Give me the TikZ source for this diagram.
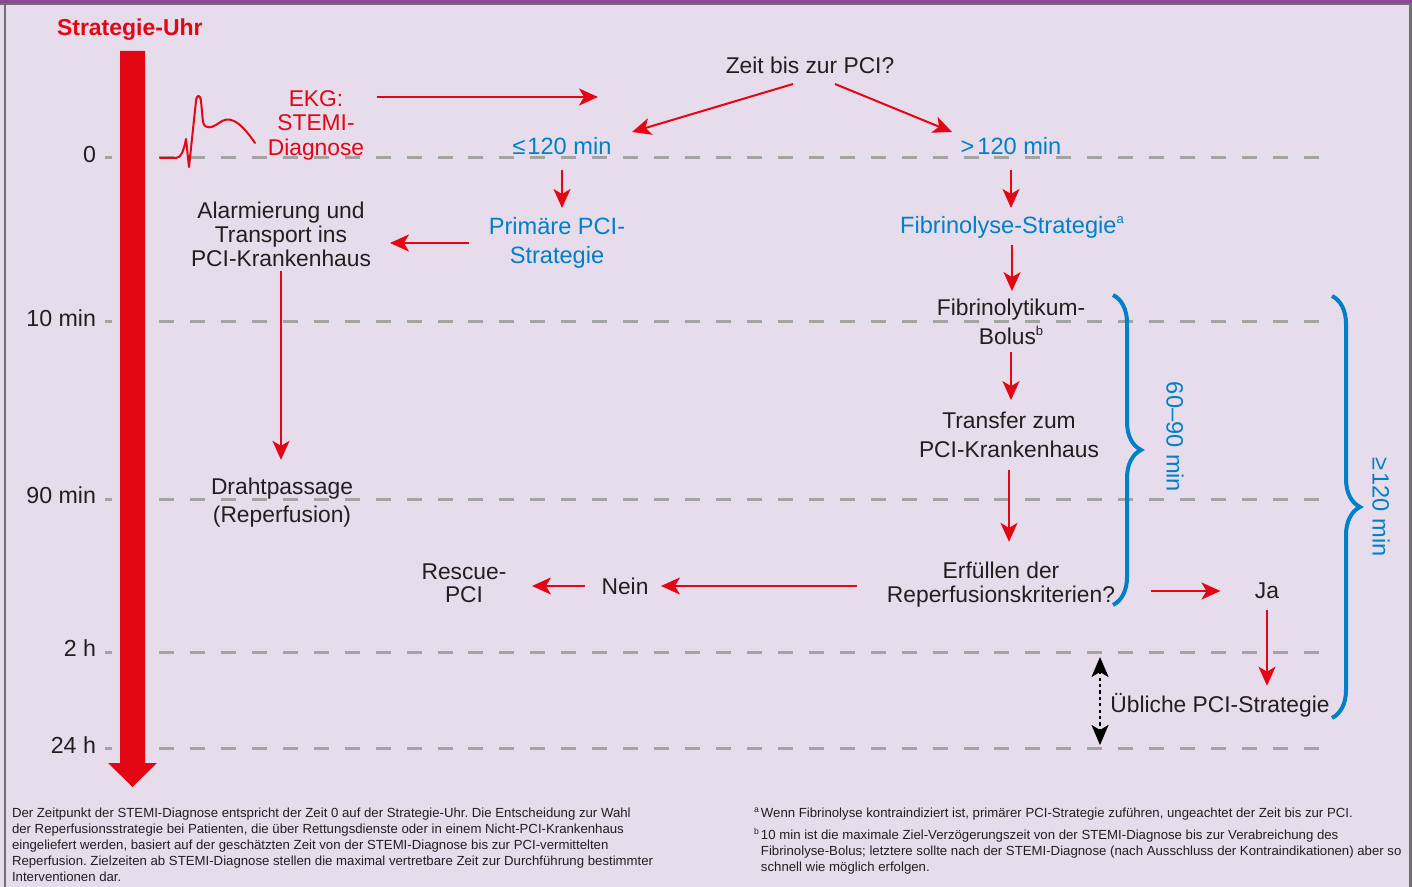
\documentclass[tikz,border=0pt]{standalone}
\usepackage{fontspec}
\setmainfont{Liberation Sans}
\usetikzlibrary{arrows.meta,decorations.pathreplacing}
\definecolor{bgc}{RGB}{230,220,236}
\definecolor{purp}{RGB}{140,72,150}
\definecolor{frm}{RGB}{112,112,112}
\definecolor{rd}{RGB}{227,6,19}
\definecolor{bl}{RGB}{0,128,198}
\definecolor{gr}{RGB}{163,163,163}
\definecolor{tx}{RGB}{35,31,32}
\newcommand{\fnsz}{\fontsize{6.6}{8}\selectfont}
\newcommand{\supmark}[1]{\raisebox{0.42em}{\fontsize{6.5}{7}\selectfont #1}}
\newcommand{\fnmark}[1]{\raisebox{0.4em}{\fontsize{4.3}{5}\selectfont #1}}
\frenchspacing
\begin{document}
\begin{tikzpicture}[x=0.5pt,y=-0.5pt,
  every node/.style={inner sep=0pt, outer sep=0pt, text=tx, align=center, font=\fontsize{11.4}{12}\selectfont},
  bluetxt/.style={text=bl, font=\fontsize{11.8}{14.5}\selectfont},
  redtxt/.style={text=rd, font=\fontsize{11.4}{12.25}\selectfont},
  ticklbl/.style={anchor=east, font=\fontsize{11.6}{12}\selectfont},
  arr/.style={draw=rd, line width=1pt, -{Stealth[length=9.5pt,width=8.5pt,inset=2.5pt]}},
  dotarr/.style={draw=black, line width=1.3pt, dash pattern=on 1.6pt off 1.6pt, {Stealth[length=10pt,width=8.5pt,inset=2.5pt]}-{Stealth[length=10pt,width=8.5pt,inset=2.5pt]}},
  gridline/.style={draw=gr, line width=1.5pt, dash pattern=on 7.5pt off 7.97pt, dash phase=3.9pt},
  bracestyle/.style={draw=bl, line width=2pt, decorate, decoration={brace, amplitude=14pt, aspect=0.5}},
  fnote/.style={anchor=north west, align=left, font=\fnsz},
]
\useasboundingbox (0,0) rectangle (1412,887);
% background and frame
\fill[bgc] (0,0) rectangle (1412,887);
\fill[purp] (0,0) rectangle (1412,3.5);
\draw[frm, line width=0.9pt] (0,4) -- (1412,4);
\draw[frm, line width=1pt] (5,4) -- (5,887);
\draw[frm, line width=1.2pt] (1410.5,4) -- (1410.5,887);

% time grid
\foreach \yy in {158,322,499,652,748}
  \draw[gridline] (105,\yy) -- (1320,\yy);

% strategy clock bar
\fill[rd] (120,51) -- (145,51) -- (145,763) -- (157,763) -- (132.5,787) -- (108,763) -- (120,763) -- cycle;
\node[anchor=west, text=rd, font=\bfseries\fontsize{11.5}{12}\selectfont] (title) at (57,30) {Strategie-Uhr};

% tick labels
\node[ticklbl] (t0) at (96,155) {0};
\node[ticklbl] (t10) at (96,318) {10 min};
\node[ticklbl] (t90) at (96,495) {90 min};
\node[ticklbl] (t2h) at (96,648) {2 h};
\node[ticklbl] (t24) at (96,745) {24 h};

% EKG trace
\draw[rd, line width=1pt, line join=round, line cap=round]
  (160,158) -- (176,158) .. controls (181,158) and (184,150) .. (186,139)
  -- (189,167) -- (196,101) .. controls (197,94) and (200,94) .. (201,101)
  -- (203,122) .. controls (205,130) and (212,128) .. (219,123)
  .. controls (228,116) and (238,118) .. (255,143);

% nodes
\node[redtxt] (ekg) at (316,125) {EKG:\\STEMI-\\Diagnose};
\node (zeit) at (810,65) {Zeit bis zur PCI?};
\node[bluetxt] (le) at (562,146) {≤\kern1pt120 min};
\node[bluetxt] (gt) at (1011,146) {>\kern1.5pt120 min};
\node[bluetxt] (prim) at (557,243) {Primäre PCI-\\Strategie};
\node[bluetxt] (fib) at (1012,227) {Fibrinolyse-Strategie\supmark{a}};
\node (alarm) at (281,234) {Alarmierung und\\Transport ins\\PCI-Krankenhaus};
\node[font=\fontsize{11.4}{14}\selectfont] (draht) at (282,503) {Drahtpassage\\(Reperfusion)};
\node[font=\fontsize{11.4}{14.5}\selectfont] (bolus) at (1011,322) {Fibrinolytikum-\\Bolus\supmark{b}};
\node[font=\fontsize{11.4}{14.5}\selectfont] (transfer) at (1009,435) {Transfer zum\\PCI-Krankenhaus};
\node (erf) at (1001,585) {Erfüllen der\\Reperfusionskriterien?};
\node (nein) at (625,586) {Nein};
\node[font=\fontsize{11.4}{11.5}\selectfont] (rescue) at (464,583) {Rescue-\\PCI};
\node (ja) at (1267,591) {Ja};
\node (ueb) at (1220,705) {Übliche PCI-Strategie};

% free connector ends
\coordinate (fork) at (598,97);
\coordinate (zl) at (793,84);
\coordinate (zr) at (835,84);
\coordinate (leIn) at (632,132);
\coordinate (gtIn) at (952,132);
\coordinate (d1) at (1100,657);
\coordinate (d2) at (1100,745);

% connectors
\draw[arr, shorten <=6.25pt] (ekg.east |- fork) -- (fork);
\draw[arr] (zl) -- (leIn);
\draw[arr] (zr) -- (gtIn);
\draw[arr, shorten <=7.75pt, shorten >=4.75pt] (le.south) -- (le.south |- prim.north);
\draw[arr, shorten <=7.75pt, shorten >=4pt] (gt.south) -- (gt.south |- fib.north);
\draw[arr, shorten <=10pt, shorten >=9.5pt] (prim.west) -- (prim.west -| alarm.east);
\draw[arr, shorten <=2.5pt, shorten >=9.25pt] (alarm.south) -- (alarm.south |- draht.north);
\draw[arr, shorten <=3.5pt, shorten >=4pt] (fib.south) -- (fib.south |- bolus.north);
\draw[arr, shorten <=3.5pt, shorten >=6pt] (bolus.south) -- (bolus.south |- transfer.north);
\draw[arr, shorten <=6pt, shorten >=10.25pt] (transfer.south) -- (transfer.south |- erf.north);
\draw[arr, shorten <=15pt, shorten >=6.25pt] (erf.west |- nein.east) -- (nein.east);
\draw[arr, shorten <=8.25pt, shorten >=12.75pt] (nein.west) -- (nein.west -| rescue.east);
\draw[arr, shorten <=18pt, shorten >=17.25pt] (erf.east |- ja.west) -- (ja.west);
\draw[arr, shorten <=5.4pt, shorten >=3.7pt] (ja.south) -- (ja.south |- ueb.north);
\draw[dotarr] (d1) -- (d2);

% braces
\coordinate (b1t) at (1113,295);
\coordinate (b1b) at (1113,605);
\coordinate (b2t) at (1332,296);
\coordinate (b2b) at (1332,718);
\draw[bracestyle] (b1t) -- (b1b);
\draw[bracestyle] (b2t) -- (b2b);
\node[bluetxt, rotate=-90] (l6090) at (1175,437) {60–90 min};
\node[bluetxt, rotate=-90] (l120) at (1381,507) {≥\kern1pt120 min};

% footnotes
\node[fnote] (fnl) at (12,808) {Der Zeitpunkt der STEMI-Diagnose entspricht der Zeit 0 auf der Strategie-Uhr. Die Entscheidung zur Wahl\\
der Reperfusionsstrategie bei Patienten, die über Rettungsdienste oder in einem Nicht-PCI-Krankenhaus\\
eingeliefert werden, basiert auf der geschätzten Zeit von der STEMI-Diagnose bis zur PCI-vermittelten\\
Reperfusion. Zielzeiten ab STEMI-Diagnose stellen die maximal vertretbare Zeit zur Durchführung bestimmter\\
Interventionen dar.};
\node[fnote] (fna) at (754,808) {\fnmark{a}\,Wenn Fibrinolyse kontraindiziert ist, primärer PCI-Strategie zuführen, ungeachtet der Zeit bis zur PCI.};
\node[fnote] (fnb) at (754,828) {\fnmark{b}\,10 min ist die maximale Ziel-Verzögerungszeit von der STEMI-Diagnose bis zur Verabreichung des\\
\phantom{\fnmark{b}\,}Fibrinolyse-Bolus; letztere sollte nach der STEMI-Diagnose (nach Ausschluss der Kontraindikationen) aber so\\
\phantom{\fnmark{b}\,}schnell wie möglich erfolgen.};
\end{tikzpicture}
\end{document}
